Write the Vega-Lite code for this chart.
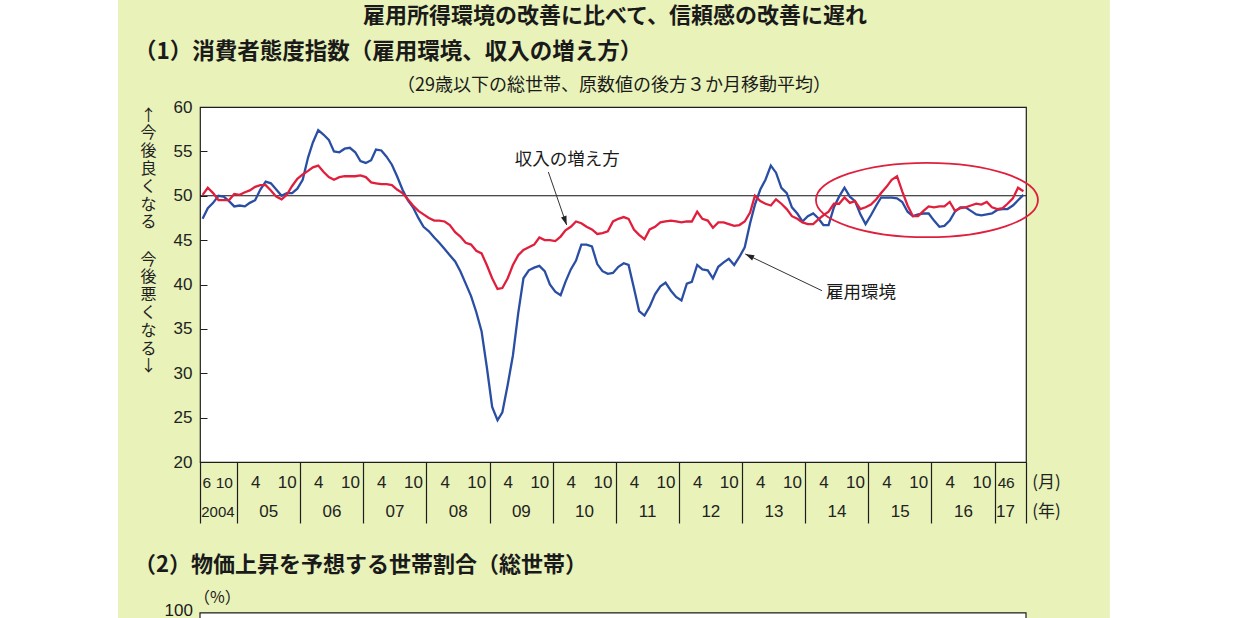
{
  "$schema": "https://vega.github.io/schema/vega-lite/v6.json",
  "description": "消費者態度指数（雇用環境、収入の増え方）29歳以下の総世帯",
  "width": 826,
  "height": 355,
  "autosize": {"type": "none"},
  "padding": {"left": 200, "top": 107, "right": 215, "bottom": 156},
  "background": "#e8f2b9",
  "config": {
    "view": {"fill": "white", "stroke": "#1e1e1e", "strokeWidth": 1.2},
    "axis": {"grid": false, "labelFlush": false, "labelOverlap": false, "labelBound": false, "labelColor": "#222", "titleColor": "#222"}
  },
  "data": {
    "values": [
      {"d": "2004-06-16", "k": 47.4, "s": 50.1},
      {"d": "2004-07-16", "k": 48.6, "s": 50.9},
      {"d": "2004-08-16", "k": 49.2, "s": 50.3},
      {"d": "2004-09-16", "k": 50.0, "s": 49.5},
      {"d": "2004-10-16", "k": 49.9, "s": 49.5},
      {"d": "2004-11-16", "k": 49.4, "s": 49.5},
      {"d": "2004-12-16", "k": 48.8, "s": 50.2},
      {"d": "2005-01-16", "k": 48.9, "s": 50.1},
      {"d": "2005-02-16", "k": 48.8, "s": 50.4},
      {"d": "2005-03-16", "k": 49.2, "s": 50.6},
      {"d": "2005-04-16", "k": 49.5, "s": 51.0},
      {"d": "2005-05-16", "k": 50.7, "s": 51.2},
      {"d": "2005-06-16", "k": 51.6, "s": 51.2},
      {"d": "2005-07-16", "k": 51.4, "s": 50.6},
      {"d": "2005-08-16", "k": 50.7, "s": 49.9},
      {"d": "2005-09-16", "k": 50.0, "s": 49.6},
      {"d": "2005-10-16", "k": 50.3, "s": 50.1},
      {"d": "2005-11-16", "k": 50.3, "s": 51.1},
      {"d": "2005-12-16", "k": 50.8, "s": 51.9},
      {"d": "2006-01-16", "k": 51.8, "s": 52.4},
      {"d": "2006-02-16", "k": 54.3, "s": 52.8},
      {"d": "2006-03-16", "k": 56.0, "s": 53.2},
      {"d": "2006-04-16", "k": 57.4, "s": 53.4},
      {"d": "2006-05-16", "k": 56.9, "s": 52.7},
      {"d": "2006-06-16", "k": 56.3, "s": 52.1},
      {"d": "2006-07-16", "k": 55.0, "s": 51.8},
      {"d": "2006-08-16", "k": 54.9, "s": 52.1},
      {"d": "2006-09-16", "k": 55.3, "s": 52.2},
      {"d": "2006-10-16", "k": 55.4, "s": 52.2},
      {"d": "2006-11-16", "k": 54.9, "s": 52.2},
      {"d": "2006-12-16", "k": 53.9, "s": 52.3},
      {"d": "2007-01-16", "k": 53.7, "s": 52.1},
      {"d": "2007-02-16", "k": 54.0, "s": 51.5},
      {"d": "2007-03-16", "k": 55.2, "s": 51.4},
      {"d": "2007-04-16", "k": 55.1, "s": 51.3},
      {"d": "2007-05-16", "k": 54.4, "s": 51.3},
      {"d": "2007-06-16", "k": 53.5, "s": 51.2},
      {"d": "2007-07-16", "k": 52.2, "s": 50.7},
      {"d": "2007-08-16", "k": 50.7, "s": 50.3},
      {"d": "2007-09-16", "k": 49.5, "s": 49.6},
      {"d": "2007-10-16", "k": 48.7, "s": 48.9},
      {"d": "2007-11-16", "k": 47.5, "s": 48.3},
      {"d": "2007-12-16", "k": 46.5, "s": 47.9},
      {"d": "2008-01-16", "k": 46.0, "s": 47.5},
      {"d": "2008-02-16", "k": 45.3, "s": 47.2},
      {"d": "2008-03-16", "k": 44.7, "s": 47.2},
      {"d": "2008-04-16", "k": 44.0, "s": 47.1},
      {"d": "2008-05-16", "k": 43.3, "s": 46.7},
      {"d": "2008-06-16", "k": 42.6, "s": 45.9},
      {"d": "2008-07-16", "k": 41.5, "s": 45.4},
      {"d": "2008-08-16", "k": 40.1, "s": 44.7},
      {"d": "2008-09-16", "k": 38.7, "s": 44.5},
      {"d": "2008-10-16", "k": 36.9, "s": 43.8},
      {"d": "2008-11-16", "k": 34.7, "s": 43.5},
      {"d": "2008-12-16", "k": 30.7, "s": 42.2},
      {"d": "2009-01-16", "k": 26.2, "s": 40.7},
      {"d": "2009-02-16", "k": 24.7, "s": 39.5},
      {"d": "2009-03-16", "k": 25.6, "s": 39.6},
      {"d": "2009-04-16", "k": 28.7, "s": 40.7},
      {"d": "2009-05-16", "k": 32.0, "s": 42.2},
      {"d": "2009-06-16", "k": 36.8, "s": 43.3},
      {"d": "2009-07-16", "k": 40.7, "s": 43.9},
      {"d": "2009-08-16", "k": 41.6, "s": 44.2},
      {"d": "2009-09-16", "k": 41.9, "s": 44.5},
      {"d": "2009-10-16", "k": 42.1, "s": 45.3},
      {"d": "2009-11-16", "k": 41.5, "s": 45.0},
      {"d": "2009-12-16", "k": 40.0, "s": 45.0},
      {"d": "2010-01-16", "k": 39.2, "s": 44.9},
      {"d": "2010-02-16", "k": 38.8, "s": 45.4},
      {"d": "2010-03-16", "k": 40.3, "s": 46.1},
      {"d": "2010-04-16", "k": 41.7, "s": 46.5},
      {"d": "2010-05-16", "k": 42.7, "s": 47.1},
      {"d": "2010-06-16", "k": 44.5, "s": 46.9},
      {"d": "2010-07-16", "k": 44.5, "s": 46.5},
      {"d": "2010-08-16", "k": 44.3, "s": 46.2},
      {"d": "2010-09-16", "k": 42.3, "s": 45.7},
      {"d": "2010-10-16", "k": 41.5, "s": 45.8},
      {"d": "2010-11-16", "k": 41.2, "s": 46.0},
      {"d": "2010-12-16", "k": 41.3, "s": 47.1},
      {"d": "2011-01-16", "k": 42.0, "s": 47.4},
      {"d": "2011-02-16", "k": 42.4, "s": 47.6},
      {"d": "2011-03-16", "k": 42.2, "s": 47.4},
      {"d": "2011-04-16", "k": 39.6, "s": 46.2},
      {"d": "2011-05-16", "k": 37.0, "s": 45.6},
      {"d": "2011-06-16", "k": 36.5, "s": 45.1},
      {"d": "2011-07-16", "k": 37.5, "s": 46.2},
      {"d": "2011-08-16", "k": 38.9, "s": 46.5},
      {"d": "2011-09-16", "k": 39.8, "s": 47.0},
      {"d": "2011-10-16", "k": 40.2, "s": 47.1},
      {"d": "2011-11-16", "k": 39.3, "s": 47.2},
      {"d": "2011-12-16", "k": 38.6, "s": 47.1},
      {"d": "2012-01-16", "k": 38.2, "s": 47.0},
      {"d": "2012-02-16", "k": 40.1, "s": 47.1},
      {"d": "2012-03-16", "k": 40.3, "s": 47.1},
      {"d": "2012-04-16", "k": 42.2, "s": 48.2},
      {"d": "2012-05-16", "k": 41.7, "s": 47.4},
      {"d": "2012-06-16", "k": 41.6, "s": 47.2},
      {"d": "2012-07-16", "k": 40.7, "s": 46.4},
      {"d": "2012-08-16", "k": 42.0, "s": 47.0},
      {"d": "2012-09-16", "k": 42.5, "s": 47.0},
      {"d": "2012-10-16", "k": 42.9, "s": 46.8},
      {"d": "2012-11-16", "k": 42.2, "s": 46.6},
      {"d": "2012-12-16", "k": 43.1, "s": 46.7},
      {"d": "2013-01-16", "k": 44.2, "s": 47.1},
      {"d": "2013-02-16", "k": 46.9, "s": 48.1},
      {"d": "2013-03-16", "k": 49.0, "s": 50.0},
      {"d": "2013-04-16", "k": 50.7, "s": 49.4},
      {"d": "2013-05-16", "k": 51.8, "s": 49.1},
      {"d": "2013-06-16", "k": 53.4, "s": 48.9},
      {"d": "2013-07-16", "k": 52.6, "s": 49.6},
      {"d": "2013-08-16", "k": 50.9, "s": 49.1},
      {"d": "2013-09-16", "k": 50.3, "s": 48.5},
      {"d": "2013-10-16", "k": 48.7, "s": 47.7},
      {"d": "2013-11-16", "k": 48.0, "s": 47.4},
      {"d": "2013-12-16", "k": 47.1, "s": 47.0},
      {"d": "2014-01-16", "k": 47.7, "s": 46.8},
      {"d": "2014-02-16", "k": 48.0, "s": 46.8},
      {"d": "2014-03-16", "k": 47.5, "s": 47.3},
      {"d": "2014-04-16", "k": 46.7, "s": 47.8},
      {"d": "2014-05-16", "k": 46.7, "s": 48.2},
      {"d": "2014-06-16", "k": 48.7, "s": 49.1},
      {"d": "2014-07-16", "k": 49.9, "s": 49.1},
      {"d": "2014-08-16", "k": 50.9, "s": 49.8},
      {"d": "2014-09-16", "k": 49.9, "s": 49.2},
      {"d": "2014-10-16", "k": 49.4, "s": 49.4},
      {"d": "2014-11-16", "k": 47.9, "s": 48.5},
      {"d": "2014-12-16", "k": 46.8, "s": 48.7},
      {"d": "2015-01-16", "k": 47.8, "s": 49.0},
      {"d": "2015-02-16", "k": 48.9, "s": 49.6},
      {"d": "2015-03-16", "k": 49.8, "s": 50.3},
      {"d": "2015-04-16", "k": 49.8, "s": 51.0},
      {"d": "2015-05-16", "k": 49.8, "s": 51.8},
      {"d": "2015-06-16", "k": 49.7, "s": 52.2},
      {"d": "2015-07-16", "k": 49.3, "s": 50.5},
      {"d": "2015-08-16", "k": 48.2, "s": 48.9},
      {"d": "2015-09-16", "k": 47.7, "s": 47.7},
      {"d": "2015-10-16", "k": 47.9, "s": 47.7},
      {"d": "2015-11-16", "k": 48.0, "s": 48.3},
      {"d": "2015-12-16", "k": 48.0, "s": 48.8},
      {"d": "2016-01-16", "k": 47.2, "s": 48.7},
      {"d": "2016-02-16", "k": 46.5, "s": 48.8},
      {"d": "2016-03-16", "k": 46.6, "s": 48.8},
      {"d": "2016-04-16", "k": 47.2, "s": 49.3},
      {"d": "2016-05-16", "k": 48.2, "s": 48.3},
      {"d": "2016-06-16", "k": 48.7, "s": 48.6},
      {"d": "2016-07-16", "k": 48.7, "s": 48.7},
      {"d": "2016-08-16", "k": 48.3, "s": 48.9},
      {"d": "2016-09-16", "k": 47.9, "s": 49.1},
      {"d": "2016-10-16", "k": 47.8, "s": 49.0},
      {"d": "2016-11-16", "k": 47.9, "s": 49.3},
      {"d": "2016-12-16", "k": 48.0, "s": 48.7},
      {"d": "2017-01-16", "k": 48.4, "s": 48.5},
      {"d": "2017-02-16", "k": 48.5, "s": 48.6},
      {"d": "2017-03-16", "k": 48.5, "s": 49.1},
      {"d": "2017-04-16", "k": 48.9, "s": 49.7},
      {"d": "2017-05-16", "k": 49.5, "s": 50.9},
      {"d": "2017-06-16", "k": 50.1, "s": 50.5}
    ]
  },
  "resolve": {"axis": {"x": "independent", "y": "independent"}},
  "layer": [
    {
      "data": {"values": [{}]},
      "mark": {"type": "rect", "color": "white"},
      "encoding": {
        "x": {"datum": {"year": 1990, "month": 1, "date": 1, "utc": true}, "type": "temporal", "scale": {"type": "utc", "domain": [{"year": 2004, "month": 6, "date": 1, "utc": true}, {"year": 2017, "month": 7, "date": 1, "utc": true}]}, "axis": null},
        "x2": {"datum": {"year": 2003, "month": 2, "date": 13, "utc": true}},
        "y": {"datum": -100, "type": "quantitative", "scale": {"domain": [20, 60], "nice": false, "zero": false}, "axis": null},
        "y2": {"datum": 200}
      }
    },
    {
      "data": {"values": [{}]},
      "mark": {"type": "rect", "color": "white"},
      "encoding": {
        "x": {"datum": {"year": 2018, "month": 10, "date": 29, "utc": true}, "type": "temporal", "axis": null},
        "x2": {"datum": {"year": 2040, "month": 1, "date": 1, "utc": true}},
        "y": {"datum": -100, "type": "quantitative", "axis": null},
        "y2": {"datum": 200}
      }
    },
    {
      "data": {"values": [{}]},
      "mark": {"type": "rect", "fill": "white", "stroke": "#1e1e1e", "strokeWidth": 1.2},
      "encoding": {
        "x": {
          "datum": {"year": 2004, "month": 6, "date": 1, "utc": true},
          "type": "temporal",
          "axis": {
            "orient": "bottom",
            "values": [
              {"year": 2004, "month": 6, "date": 1, "utc": true},
              {"year": 2005, "month": 1, "date": 1, "utc": true},
              {"year": 2006, "month": 1, "date": 1, "utc": true},
              {"year": 2007, "month": 1, "date": 1, "utc": true},
              {"year": 2008, "month": 1, "date": 1, "utc": true},
              {"year": 2009, "month": 1, "date": 1, "utc": true},
              {"year": 2010, "month": 1, "date": 1, "utc": true},
              {"year": 2011, "month": 1, "date": 1, "utc": true},
              {"year": 2012, "month": 1, "date": 1, "utc": true},
              {"year": 2013, "month": 1, "date": 1, "utc": true},
              {"year": 2014, "month": 1, "date": 1, "utc": true},
              {"year": 2015, "month": 1, "date": 1, "utc": true},
              {"year": 2016, "month": 1, "date": 1, "utc": true},
              {"year": 2017, "month": 1, "date": 1, "utc": true},
              {"year": 2017, "month": 7, "date": 1, "utc": true}
            ],
            "ticks": true,
            "tickSize": 61,
            "tickColor": "#1e1e1e",
            "tickWidth": 1.2,
            "labels": false,
            "domain": false,
            "title": null
          }
        },
        "x2": {"datum": {"year": 2017, "month": 7, "date": 1, "utc": true}},
        "y": {"datum": 2.99, "type": "quantitative", "axis": null},
        "y2": {"datum": -60}
      }
    },
    {
      "data": {"values": [{}]},
      "mark": {"type": "rule", "color": "#111", "strokeWidth": 1},
      "encoding": {
        "y": {
          "datum": 50,
          "type": "quantitative",
          "axis": {
            "orient": "left",
            "values": [20, 25, 30, 35, 40, 45, 50, 55, 60],
            "ticks": true,
            "tickSize": -7,
            "tickColor": "#1e1e1e",
            "tickWidth": 1,
            "labels": true,
            "labelPadding": 15,
            "labelFont": "Liberation Sans",
            "labelFontSize": 17,
            "domain": false,
            "title": ["↑", "今", "後", "良", "く", "な", "る"],
            "titleFont": "Noto Sans CJK JP",
            "titleFontSize": 16,
            "titleFontWeight": "normal",
            "titleLineHeight": 17.8,
            "titleAngle": 0,
            "titleX": -52,
            "titleY": 0,
            "titleAlign": "center",
            "titleBaseline": "top"
          }
        }
      }
    },
    {
      "mark": {"type": "line", "color": "#2a4ea3", "strokeWidth": 2.3},
      "encoding": {
        "x": {
          "field": "d",
          "type": "temporal",
          "axis": {
            "orient": "bottom",
            "values": [
              {"year": 2004, "month": 7, "date": 8, "utc": true},
              {"year": 2004, "month": 10, "date": 17, "utc": true},
              {"year": 2005, "month": 4, "date": 16, "utc": true},
              {"year": 2005, "month": 10, "date": 16, "utc": true},
              {"year": 2006, "month": 4, "date": 16, "utc": true},
              {"year": 2006, "month": 10, "date": 16, "utc": true},
              {"year": 2007, "month": 4, "date": 16, "utc": true},
              {"year": 2007, "month": 10, "date": 16, "utc": true},
              {"year": 2008, "month": 4, "date": 16, "utc": true},
              {"year": 2008, "month": 10, "date": 16, "utc": true},
              {"year": 2009, "month": 4, "date": 16, "utc": true},
              {"year": 2009, "month": 10, "date": 16, "utc": true},
              {"year": 2010, "month": 4, "date": 16, "utc": true},
              {"year": 2010, "month": 10, "date": 16, "utc": true},
              {"year": 2011, "month": 4, "date": 16, "utc": true},
              {"year": 2011, "month": 10, "date": 16, "utc": true},
              {"year": 2012, "month": 4, "date": 16, "utc": true},
              {"year": 2012, "month": 10, "date": 16, "utc": true},
              {"year": 2013, "month": 4, "date": 16, "utc": true},
              {"year": 2013, "month": 10, "date": 16, "utc": true},
              {"year": 2014, "month": 4, "date": 16, "utc": true},
              {"year": 2014, "month": 10, "date": 16, "utc": true},
              {"year": 2015, "month": 4, "date": 16, "utc": true},
              {"year": 2015, "month": 10, "date": 16, "utc": true},
              {"year": 2016, "month": 4, "date": 16, "utc": true},
              {"year": 2016, "month": 10, "date": 16, "utc": true},
              {"year": 2017, "month": 2, "date": 10, "utc": true},
              {"year": 2017, "month": 3, "date": 30, "utc": true}
            ],
            "labelExpr": "utcyear(datum.value) == 2004 ? (utcmonth(datum.value) < 8 ? '6' : '10') : utcyear(datum.value) == 2017 ? (utcmonth(datum.value) < 2 ? '4' : '6') : '' + (utcmonth(datum.value) + 1)",
            "labelFont": "Liberation Sans",
            "labelFontSize": {"condition": {"test": "utcyear(datum.value) == 2004 || utcyear(datum.value) == 2017", "value": 15.5}, "value": 17},
            "labelBaseline": "middle",
            "labelPadding": 20,
            "ticks": false,
            "domain": false,
            "title": "(月)",
            "titleFont": "Noto Sans CJK JP",
            "titleFontSize": 17,
            "titleFontWeight": "normal",
            "titleX": 846,
            "titleY": 20,
            "titleAlign": "center",
            "titleBaseline": "middle"
          }
        },
        "y": {
          "field": "k",
          "type": "quantitative",
          "axis": {
            "orient": "left",
            "ticks": false,
            "labels": false,
            "domain": false,
            "title": ["今", "後", "悪", "く", "な", "る", "↓"],
            "titleFont": "Noto Sans CJK JP",
            "titleFontSize": 16,
            "titleFontWeight": "normal",
            "titleLineHeight": 17.8,
            "titleAngle": 0,
            "titleX": -52,
            "titleY": 144,
            "titleAlign": "center",
            "titleBaseline": "top"
          }
        }
      }
    },
    {
      "mark": {"type": "line", "color": "#e01f3d", "strokeWidth": 2.3},
      "encoding": {
        "x": {
          "field": "d",
          "type": "temporal",
          "axis": {
            "orient": "bottom",
            "values": [
              {"year": 2004, "month": 9, "date": 10, "utc": true},
              {"year": 2005, "month": 7, "date": 1, "utc": true},
              {"year": 2006, "month": 7, "date": 1, "utc": true},
              {"year": 2007, "month": 7, "date": 1, "utc": true},
              {"year": 2008, "month": 7, "date": 1, "utc": true},
              {"year": 2009, "month": 7, "date": 1, "utc": true},
              {"year": 2010, "month": 7, "date": 1, "utc": true},
              {"year": 2011, "month": 7, "date": 1, "utc": true},
              {"year": 2012, "month": 7, "date": 1, "utc": true},
              {"year": 2013, "month": 7, "date": 1, "utc": true},
              {"year": 2014, "month": 7, "date": 1, "utc": true},
              {"year": 2015, "month": 7, "date": 1, "utc": true},
              {"year": 2016, "month": 7, "date": 1, "utc": true},
              {"year": 2017, "month": 3, "date": 1, "utc": true}
            ],
            "labelExpr": "utcyear(datum.value) == 2004 ? '2004' : utcFormat(datum.value, '%y')",
            "labelFont": "Liberation Sans",
            "labelFontSize": {"condition": {"test": "utcyear(datum.value) == 2004", "value": 15}, "value": 17},
            "labelBaseline": "middle",
            "labelPadding": 49,
            "ticks": false,
            "domain": false,
            "title": "(年)",
            "titleFont": "Noto Sans CJK JP",
            "titleFontSize": 17,
            "titleFontWeight": "normal",
            "titleX": 846,
            "titleY": 49,
            "titleAlign": "center",
            "titleBaseline": "middle"
          }
        },
        "y": {"field": "s", "type": "quantitative", "axis": null}
      }
    },
    {
      "data": {"values": [{}]},
      "mark": {
        "type": "point",
        "shape": "M-1,0C-1,-0.185 -0.552,-0.335 0,-0.335C0.552,-0.335 1,-0.185 1,0C1,0.185 0.552,0.335 0,0.335C-0.552,0.335 -1,0.185 -1,0Z",
        "size": 49284,
        "filled": false,
        "color": "#e01f3d",
        "strokeWidth": 1.8,
        "opacity": 1
      },
      "encoding": {
        "x": {"datum": {"year": 2015, "month": 12, "date": 6, "utc": true}, "type": "temporal", "axis": null},
        "y": {"datum": 49.52, "type": "quantitative", "axis": null}
      }
    },
    {
      "data": {"values": [{}]},
      "mark": {"type": "rule", "color": "#333", "strokeWidth": 1},
      "encoding": {
        "x": {"datum": {"year": 2009, "month": 12, "date": 7, "utc": true}, "type": "temporal", "axis": null},
        "y": {"datum": 52.68, "type": "quantitative", "axis": null},
        "x2": {"datum": {"year": 2010, "month": 3, "date": 23, "utc": true}},
        "y2": {"datum": 46.7}
      }
    },
    {
      "data": {"values": [{}]},
      "mark": {"type": "rule", "color": "#333", "strokeWidth": 1},
      "encoding": {
        "x": {"datum": {"year": 2014, "month": 4, "date": 8, "utc": true}, "type": "temporal", "axis": null},
        "y": {"datum": 39.3, "type": "quantitative", "axis": null},
        "x2": {"datum": {"year": 2013, "month": 1, "date": 19, "utc": true}},
        "y2": {"datum": 43.44}
      }
    },
    {
      "data": {"values": [{}]},
      "mark": {"type": "point", "shape": "M0,0L-0.32,1L0.32,1Z", "size": 324, "filled": true, "color": "#222", "opacity": 1, "angle": 161},
      "encoding": {
        "x": {"datum": {"year": 2010, "month": 3, "date": 23, "utc": true}, "type": "temporal", "axis": null},
        "y": {"datum": 46.7, "type": "quantitative", "axis": null}
      }
    },
    {
      "data": {"values": [{}]},
      "mark": {"type": "point", "shape": "M0,0L-0.32,1L0.32,1Z", "size": 324, "filled": true, "color": "#222", "opacity": 1, "angle": 295.6},
      "encoding": {
        "x": {"datum": {"year": 2013, "month": 1, "date": 19, "utc": true}, "type": "temporal", "axis": null},
        "y": {"datum": 43.44, "type": "quantitative", "axis": null}
      }
    },
    {
      "data": {"values": [{}]},
      "mark": {"type": "text", "text": "収入の増え方", "font": "Noto Sans CJK JP", "fontSize": 17.5, "align": "center", "baseline": "middle", "color": "#1a1a1a"},
      "encoding": {
        "x": {"datum": {"year": 2010, "month": 3, "date": 27, "utc": true}, "type": "temporal", "axis": null},
        "y": {"datum": 54.03, "type": "quantitative", "axis": null}
      }
    },
    {
      "data": {"values": [{}]},
      "mark": {"type": "text", "text": "雇用環境", "font": "Noto Sans CJK JP", "fontSize": 17.5, "align": "center", "baseline": "middle", "color": "#1a1a1a"},
      "encoding": {
        "x": {"datum": {"year": 2014, "month": 11, "date": 19, "utc": true}, "type": "temporal", "axis": null},
        "y": {"datum": 39.04, "type": "quantitative", "axis": null}
      }
    },
    {
      "data": {"values": [{}]},
      "mark": {"type": "text", "text": "雇用所得環境の改善に比べて、信頼感の改善に遅れ", "font": "Noto Sans CJK JP", "fontSize": 22, "fontWeight": "bold", "align": "center", "baseline": "middle", "color": "#1a1a1a"},
      "encoding": {
        "x": {"datum": {"year": 2010, "month": 12, "date": 27, "utc": true}, "type": "temporal", "axis": null},
        "y": {"datum": 70.2, "type": "quantitative", "axis": null}
      }
    },
    {
      "data": {"values": [{}]},
      "mark": {"type": "text", "text": "（1）消費者態度指数（雇用環境、収入の増え方）", "font": "Noto Sans CJK JP", "fontSize": 22.5, "fontWeight": "bold", "align": "left", "baseline": "middle", "color": "#1a1a1a"},
      "encoding": {
        "x": {"datum": {"year": 2003, "month": 5, "date": 16, "utc": true}, "type": "temporal", "axis": null},
        "y": {"datum": 66.2, "type": "quantitative", "axis": null}
      }
    },
    {
      "data": {"values": [{}]},
      "mark": {"type": "text", "text": "（29歳以下の総世帯、原数値の後方３か月移動平均）", "font": "Noto Sans CJK JP", "fontSize": 18, "align": "left", "baseline": "middle", "color": "#1a1a1a"},
      "encoding": {
        "x": {"datum": {"year": 2007, "month": 7, "date": 15, "utc": true}, "type": "temporal", "axis": null},
        "y": {"datum": 62.37, "type": "quantitative", "axis": null}
      }
    },
    {
      "data": {"values": [{}]},
      "mark": {"type": "text", "text": "（2）物価上昇を予想する世帯割合（総世帯）", "font": "Noto Sans CJK JP", "fontSize": 22, "fontWeight": "bold", "align": "left", "baseline": "middle", "color": "#1a1a1a"},
      "encoding": {
        "x": {"datum": {"year": 2003, "month": 5, "date": 16, "utc": true}, "type": "temporal", "axis": null},
        "y": {"datum": 8.39, "type": "quantitative", "axis": null}
      }
    },
    {
      "data": {"values": [{}]},
      "mark": {"type": "text", "text": "（%）", "font": "Noto Sans CJK JP", "fontSize": 16, "align": "left", "baseline": "middle", "color": "#1a1a1a"},
      "encoding": {
        "x": {"datum": {"year": 2004, "month": 4, "date": 27, "utc": true}, "type": "temporal", "axis": null},
        "y": {"datum": 4.68, "type": "quantitative", "axis": null}
      }
    },
    {
      "data": {"values": [{}]},
      "mark": {"type": "text", "text": "100", "font": "Liberation Sans", "fontSize": 17, "align": "right", "baseline": "middle", "color": "#1a1a1a"},
      "encoding": {
        "x": {"datum": {"year": 2004, "month": 4, "date": 21, "utc": true}, "type": "temporal", "axis": null},
        "y": {"datum": 3.25, "type": "quantitative", "axis": null}
      }
    }
  ]
}
